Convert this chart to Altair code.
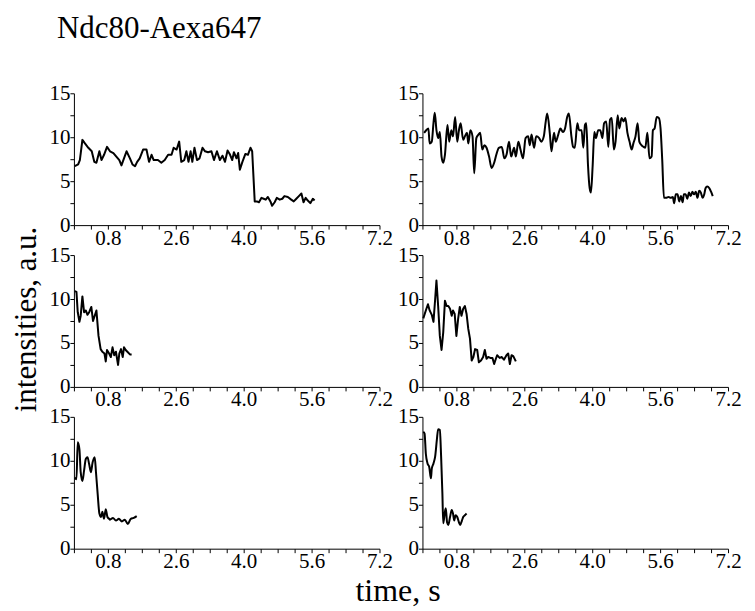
import altair as alt
import pandas as pd

FONT = "Liberation Serif"

TITLE = "Ndc80-Aexa647"
X_TITLE = "time, s"
Y_TITLE = "intensities, a.u."

X_TICK_VALUES = [0.0, 0.4, 0.8, 1.2, 1.6, 2.0, 2.4, 2.8, 3.2, 3.6, 4.0,
                 4.4, 4.8, 5.2, 5.6, 6.0, 6.4, 6.8, 7.2]
X_LABEL_AT = [0.8, 2.4, 4.0, 5.6, 7.2]
X_LABEL_TEXT = ["0.8", "2.6", "4.0", "5.6", "7.2"]
Y_TICK_VALUES = [0, 2.5, 5, 7.5, 10, 12.5, 15]

# panel 1 (top left)
p1_t = [0.02, 0.10, 0.14, 0.20, 0.26, 0.34, 0.42, 0.48, 0.53, 0.60,
        0.65, 0.71, 0.78, 0.85, 0.93, 1.00, 1.07, 1.12, 1.18, 1.24,
        1.32, 1.38, 1.44, 1.49, 1.55, 1.63, 1.71, 1.77, 1.83, 1.88,
        1.98, 2.06, 2.14, 2.22, 2.30, 2.35, 2.42, 2.48, 2.53, 2.60,
        2.65, 2.70, 2.75, 2.79, 2.84, 2.90, 2.96, 3.03, 3.09, 3.16,
        3.24, 3.30, 3.37, 3.44, 3.50, 3.56, 3.62, 3.67, 3.73, 3.77,
        3.83, 3.87, 3.91, 3.97, 4.04, 4.10, 4.16, 4.20, 4.26, 4.31,
        4.36, 4.42, 4.47, 4.52, 4.57, 4.63, 4.67, 4.73, 4.78, 4.85,
        4.91, 4.96, 5.04, 5.12, 5.18, 5.24, 5.30, 5.36, 5.41, 5.46,
        5.51, 5.57, 5.63, 5.67]
p1_v = [6.7, 6.9, 7.4, 9.7, 9.3, 8.8, 8.4, 7.2, 7.1, 8.4,
        7.4, 8.0, 8.9, 8.4, 8.2, 7.8, 7.4, 6.8, 7.6, 8.4,
        7.6, 6.9, 6.7, 7.2, 7.6, 8.6, 8.6, 7.2, 8.0, 7.4,
        7.4, 7.1, 7.4, 8.0, 8.0, 8.8, 8.6, 9.5, 7.2, 7.4,
        8.4, 7.2, 8.4, 7.2, 8.8, 7.4, 7.6, 8.8, 8.4, 8.3,
        8.4, 7.4, 8.4, 7.4, 7.9, 7.2, 8.5, 8.1, 7.4, 8.3,
        7.6, 8.2, 6.3, 7.2, 8.1, 8.0, 8.8, 8.4, 2.7, 2.7,
        2.6, 3.1, 3.0, 2.9, 3.2, 2.7, 2.2, 2.6, 3.1, 2.9,
        3.0, 3.3, 3.2, 2.9, 2.7, 3.0, 3.3, 3.6, 2.6, 3.1,
        2.8, 2.5, 3.0, 2.8]

# panel 2 (top right)
p2_t = [0.04, 0.09, 0.14, 0.17, 0.22, 0.26, 0.29, 0.33, 0.37, 0.41,
        0.45, 0.49, 0.53, 0.59, 0.63, 0.68, 0.72, 0.77, 0.82, 0.86,
        0.90, 0.96, 1.00, 1.05, 1.08, 1.13, 1.18, 1.22, 1.27, 1.32,
        1.36, 1.41, 1.46, 1.51, 1.57, 1.63, 1.69, 1.74, 1.80, 1.87,
        1.93, 1.98, 2.04, 2.09, 2.16, 2.20, 2.26, 2.31, 2.37, 2.43,
        2.49, 2.53, 2.57, 2.63, 2.68, 2.75, 2.80, 2.86, 2.90, 2.94,
        3.00, 3.04, 3.10, 3.14, 3.20, 3.25, 3.31, 3.36, 3.41, 3.45,
        3.51, 3.55, 3.59, 3.65, 3.69, 3.75, 3.79, 3.83, 3.86, 3.90,
        3.94, 3.97, 4.01, 4.05, 4.09, 4.14, 4.19, 4.24, 4.28, 4.33,
        4.38, 4.42, 4.46, 4.51, 4.55, 4.60, 4.64, 4.69, 4.74, 4.78,
        4.83, 4.88, 4.93, 4.97, 5.02, 5.07, 5.11, 5.16, 5.21, 5.25,
        5.30, 5.35, 5.40, 5.43, 5.47, 5.52, 5.57, 5.61, 5.65, 5.69,
        5.74, 5.80, 5.85, 5.90, 5.93, 5.97, 6.01, 6.05, 6.09, 6.13,
        6.16, 6.20, 6.24, 6.28, 6.32, 6.36, 6.40, 6.44, 6.48, 6.52,
        6.56, 6.60, 6.64, 6.67, 6.71, 6.76, 6.80, 6.84]
p2_v = [10.5, 10.8, 11.0, 9.3, 9.5, 11.6, 12.8, 10.8, 9.9, 10.6,
        7.8, 7.1, 8.0, 11.4, 9.5, 10.8, 10.1, 12.3, 9.5, 10.8,
        11.6, 9.7, 10.1, 10.5, 9.3, 10.8, 10.1, 5.9, 9.9, 10.3,
        10.5, 8.6, 9.1, 8.8, 7.8, 6.5, 7.1, 8.0, 8.8, 8.9,
        7.6, 8.0, 9.5, 7.8, 8.8, 7.8, 9.5, 8.6, 7.6, 9.9,
        10.1, 9.1, 10.3, 8.8, 10.1, 9.9, 9.5, 10.1, 11.6, 12.7,
        10.5, 8.4, 10.5, 9.5, 10.3, 11.0, 10.6, 11.0, 12.3, 12.7,
        10.1, 8.9, 8.8, 11.6, 10.8, 10.8, 8.8, 11.4, 11.6, 6.9,
        4.2, 3.7, 6.7, 10.6, 9.9, 10.8, 10.8, 9.9, 11.6, 11.8,
        8.9, 12.0, 12.2, 8.6, 9.5, 12.5, 11.0, 12.2, 11.8, 12.2,
        10.5, 9.5, 8.6, 9.3, 10.1, 11.6, 9.5, 9.1, 8.9, 8.8,
        10.5, 7.6, 7.8, 10.8, 11.0, 12.3, 12.2, 11.0, 7.4, 3.1,
        3.1, 3.2, 3.1, 3.2, 2.5, 3.5, 3.5, 2.7, 3.3, 2.6,
        3.5, 3.5, 3.0, 3.7, 3.3, 3.8, 3.5, 3.8, 3.1, 3.9,
        3.7, 3.1, 3.5, 4.2, 4.4, 4.2, 3.8, 3.3]

# panel 3 (middle left)
p3_t = [0.02, 0.06, 0.09, 0.13, 0.16, 0.20, 0.24, 0.28, 0.32, 0.36,
        0.41, 0.45, 0.49, 0.53, 0.58, 0.63, 0.67, 0.72, 0.75, 0.78,
        0.83, 0.87, 0.91, 0.95, 0.99, 1.04, 1.07, 1.11, 1.15, 1.18,
        1.22, 1.26, 1.32, 1.36]
p3_v = [10.9, 10.8, 8.5, 7.4, 8.1, 10.3, 8.5, 8.7, 8.2, 8.5,
        9.1, 7.5, 8.1, 8.7, 5.8, 4.3, 4.0, 3.8, 2.9, 4.2,
        3.8, 3.4, 4.5, 3.6, 4.0, 2.5, 3.8, 4.3, 3.4, 4.5,
        4.2, 4.0, 3.7, 3.7]

# panel 4 (middle right)
p4_t = [0.02, 0.08, 0.13, 0.17, 0.22, 0.26, 0.30, 0.33, 0.37, 0.41,
        0.45, 0.49, 0.53, 0.57, 0.61, 0.65, 0.69, 0.72, 0.76, 0.80,
        0.84, 0.88, 0.92, 0.96, 1.00, 1.04, 1.08, 1.12, 1.16, 1.20,
        1.24, 1.29, 1.33, 1.38, 1.43, 1.47, 1.51, 1.55, 1.60, 1.65,
        1.69, 1.73, 1.76, 1.82, 1.87, 1.92, 1.98, 2.02, 2.06, 2.10,
        2.14, 2.20]
p4_v = [7.8, 8.7, 9.4, 8.7, 8.2, 7.4, 10.0, 12.1, 9.2, 5.8,
        4.2, 6.2, 9.8, 9.2, 9.2, 8.9, 8.1, 8.7, 8.3, 5.8,
        7.7, 9.1, 8.1, 8.9, 9.2, 8.3, 6.6, 5.5, 3.0, 3.4,
        4.3, 4.2, 2.8, 3.0, 3.4, 4.2, 3.2, 3.4, 3.3, 3.3,
        2.6, 3.2, 3.6, 3.3, 3.4, 3.1, 3.6, 3.8, 2.6, 3.6,
        3.5, 2.9]

# panel 5 (bottom left)
p5_t = [0.02, 0.06, 0.09, 0.13, 0.16, 0.20, 0.24, 0.28, 0.32, 0.36,
        0.40, 0.44, 0.49, 0.52, 0.56, 0.60, 0.64, 0.67, 0.71, 0.75,
        0.79, 0.83, 0.85, 0.92, 0.99, 1.06, 1.13, 1.20, 1.27, 1.34,
        1.41, 1.48]
p5_v = [8.1, 7.9, 12.1, 11.3, 8.7, 7.7, 8.9, 10.2, 10.4, 9.6,
        8.7, 9.8, 10.4, 8.7, 6.2, 4.0, 3.6, 4.2, 3.4, 4.5,
        3.6, 3.4, 3.3, 3.5, 3.2, 3.4, 3.1, 3.3, 2.8, 3.4,
        3.5, 3.7]

# panel 6 (bottom right)
p6_t = [0.02, 0.05, 0.08, 0.12, 0.16, 0.20, 0.22, 0.26, 0.30, 0.34,
        0.37, 0.41, 0.44, 0.47, 0.49, 0.53, 0.55, 0.58, 0.61, 0.65,
        0.69, 0.72, 0.75, 0.78, 0.82, 0.86, 0.89, 0.93, 0.96, 1.00,
        1.04]
p6_v = [13.3, 13.1, 10.8, 9.7, 9.3, 8.0, 9.1, 9.7, 10.5, 12.4,
        13.6, 13.5, 10.5, 6.3, 2.9, 4.2, 4.6, 3.0, 2.7, 3.6,
        4.4, 4.0, 3.2, 3.8, 3.6, 3.0, 2.7, 3.2, 3.6, 3.8,
        4.0]

label_expr = " : ".join(
    f"abs(datum.value - {a}) < 0.01 ? '{s}'" for a, s in zip(X_LABEL_AT, X_LABEL_TEXT)
) + " : ''"

AXIS_STYLE = dict(
    grid=False, domainColor="black", domainWidth=1, tickColor="black",
    tickWidth=1, tickSize=4, labelColor="black", labelFont=FONT,
    labelFontSize=21, labelFlush=False, labelOverlap=False,
    titleFont=FONT, titleFontWeight="normal", titleColor="black",
)


def panel(t, v, interp, x_title=False, y_title=False):
    df = pd.DataFrame({"t": t, "v": v})
    x_kwargs = dict(values=X_TICK_VALUES, labelExpr=label_expr, labelPadding=-2, **AXIS_STYLE)
    if x_title:
        x_kwargs.update(title=X_TITLE, titleX=324, titleY=52, titleAlign="center",
                        titleBaseline="alphabetic", titleFontSize=32)
    else:
        x_kwargs.update(title=None)
    y_kwargs = dict(values=Y_TICK_VALUES,
                    labelExpr="datum.value % 5 == 0 ? datum.label : ''",
                    labelPadding=0, **AXIS_STYLE)
    if y_title:
        y_kwargs.update(title=Y_TITLE, titleX=-38, titleY=64, titleAlign="center",
                        titleAngle=270, titleBaseline="alphabetic", titleFontSize=31)
    else:
        y_kwargs.update(title=None)
    return alt.Chart(df).mark_line(
        color="black", strokeWidth=2, interpolate=interp, strokeJoin="round"
    ).encode(
        x=alt.X("t:Q", scale=alt.Scale(domain=[0, 7.2], nice=False, zero=False),
                axis=alt.Axis(**x_kwargs)),
        y=alt.Y("v:Q", scale=alt.Scale(domain=[0, 15], nice=False),
                axis=alt.Axis(format="d", **y_kwargs)),
    ).properties(width=306, height=132)


chart = alt.concat(
    panel(p1_t, p1_v, "linear"),
    panel(p2_t, p2_v, "monotone"),
    panel(p3_t, p3_v, "linear", y_title=True),
    panel(p4_t, p4_v, "linear"),
    panel(p5_t, p5_v, "monotone", x_title=True),
    panel(p6_t, p6_v, "monotone"),
    columns=2,
    spacing={"row": 30, "column": 43},
    bounds="flush",
).properties(
    title=alt.TitleParams(text=TITLE, anchor="start", frame="group", font=FONT,
                          fontSize=31, fontWeight="normal", color="black",
                          dx=-17, offset=37),
    padding={"left": 2, "top": 5, "right": 5, "bottom": 3},
).configure(font=FONT).configure_axis(labelFont=FONT, titleFont=FONT
).configure_view(strokeOpacity=0)

chart.save("out.html", embed_options={"renderer": "svg", "actions": False})
